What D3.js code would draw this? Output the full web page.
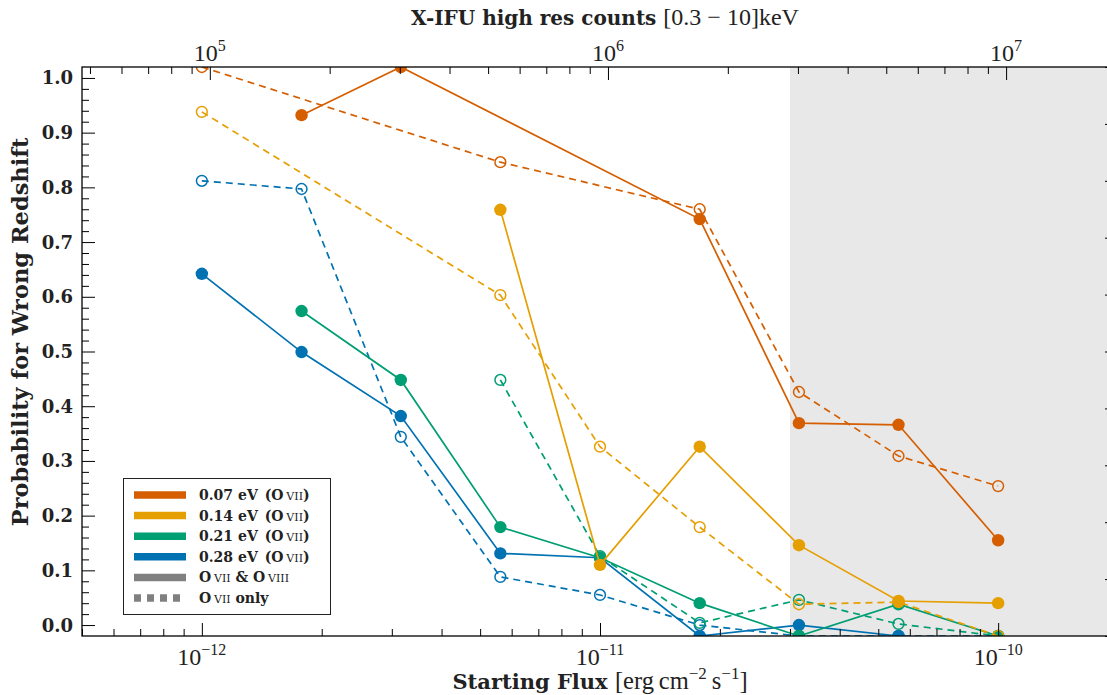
<!DOCTYPE html>
<html>
<head>
<meta charset="utf-8">
<script src="https://cdn.jsdelivr.net/npm/d3@7"></script>
<style>
  body { margin: 0; background: #fff; }
  svg { display: block; }
</style>
</head>
<body>
<svg id="chart" width="1107" height="695"></svg>
<script>
// ---- data -------------------------------------------------------------
// starting flux of each simulated source bin [erg cm^-2 s^-1]
const fluxBins = [1e-12, 1.78e-12, 3.16e-12, 5.62e-12, 1e-11, 1.78e-11, 3.16e-11, 5.62e-11, 1e-10];

// line widths (O VII) and their colours
const widthLabels = ["0.07 eV", "0.14 eV", "0.21 eV", "0.28 eV"];
const widthColors = ["#d55e00", "#e69f00", "#009e73", "#0072b2"];

// probability for a wrong redshift, fit with O VII & O VIII (solid)
const both007 = [null, 0.932, 1.02, null, null, 0.742, 0.369, 0.366, 0.155];
const both014 = [null, null, null, 0.759, 0.110, 0.326, 0.146, 0.044, 0.040];
const both021 = [null, 0.574, 0.448, 0.179, 0.123, 0.040, -0.02, 0.038, -0.02];
const both028 = [0.642, 0.499, 0.382, 0.131, 0.123, -0.02, 0.000, -0.02, null];

// probability for a wrong redshift, fit with O VII only (dashed)
const only007 = [1.02, null, null, 0.846, null, 0.760, 0.426, 0.309, 0.254];
const only014 = [0.938, null, null, 0.603, 0.326, 0.179, 0.038, 0.042, -0.02];
const only021 = [null, null, null, 0.448, 0.126, 0.004, 0.046, 0.002, -0.02];
const only028 = [0.812, 0.797, 0.344, 0.088, 0.055, 0.000, -0.02, -0.02, -0.02];

// flux above which the sources are considered bright
const brightFluxLimit = 3e-11;

// conversion from starting flux to X-IFU high-res counts in 0.3-10 keV
const countsPerFlux = 9.55e16;

// axis ticks
const fluxMajorTicks = [1e-12, 1e-11, 1e-10];
const countMajorTicks = [1e5, 1e6, 1e7];
const probMajorTicks = [0, 0.1, 0.2, 0.3, 0.4, 0.5, 0.6, 0.7, 0.8, 0.9, 1.0];

// ---- layout -----------------------------------------------------------
const margin = { left: 82, right: 1118, top: 67, bottom: 636 };
const svg = d3.select("#chart");

const x = d3.scaleLog().domain([5e-13, 2e-10]).range([margin.left, margin.right]);
const xTop = d3.scaleLog()
  .domain([5e-13 * countsPerFlux, 2e-10 * countsPerFlux])
  .range([margin.left, margin.right]);
const y = d3.scaleLinear().domain([-0.02, 1.02]).range([margin.bottom, margin.top]);

const boldFont = "'DejaVu Serif', serif";
const mathFont = "'Liberation Serif', 'Times New Roman', serif";

// minor ticks of a log scale (2..9 x 10^n) inside its domain
function logMinors(scale) {
  const [a, b] = scale.domain();
  const out = [];
  for (let e = Math.floor(Math.log10(a)); e <= Math.ceil(Math.log10(b)); e++) {
    for (let m = 2; m <= 9; m++) {
      const v = m * Math.pow(10, e);
      if (v >= a && v <= b) out.push(v);
    }
  }
  return out;
}

// ---- plot area ----------------------------------------------------------
svg.append("defs").append("clipPath").attr("id", "plotClip")
  .append("rect")
  .attr("x", margin.left).attr("y", margin.top)
  .attr("width", margin.right - margin.left)
  .attr("height", margin.bottom - margin.top);

const plotArea = svg.append("g").attr("clip-path", "url(#plotClip)");

// shaded bright-flux regime
plotArea.append("rect")
  .attr("x", x(brightFluxLimit))
  .attr("y", margin.top)
  .attr("width", x(x.domain()[1]) - x(brightFluxLimit))
  .attr("height", margin.bottom - margin.top)
  .attr("fill", "#e8e8e8");

// ---- axes ---------------------------------------------------------------
function tickGroup(axis, transform) {
  const g = svg.append("g").attr("transform", transform).call(axis);
  g.select(".domain").remove();
  g.selectAll(".tick line").attr("stroke", "#000").attr("stroke-width", 1);
  g.selectAll(".tick text").remove();
  return g;
}

// bottom: flux
tickGroup(d3.axisBottom(x).tickValues(fluxMajorTicks).tickSize(-13), `translate(0,${margin.bottom})`);
tickGroup(d3.axisBottom(x).tickValues(logMinors(x)).tickSize(-7), `translate(0,${margin.bottom})`);
// top: counts
tickGroup(d3.axisTop(xTop).tickValues(countMajorTicks).tickSize(-13), `translate(0,${margin.top})`);
tickGroup(d3.axisTop(xTop).tickValues(logMinors(xTop)).tickSize(-7), `translate(0,${margin.top})`);
// left: probability
const probMinorTicks = d3.range(0, 51).map(i => i / 50).filter(v => Math.round(v * 50) % 5 !== 0);
tickGroup(d3.axisLeft(y).tickValues(probMajorTicks).tickSize(-13), `translate(${margin.left},0)`);
tickGroup(d3.axisLeft(y).tickValues(probMinorTicks).tickSize(-7), `translate(${margin.left},0)`);
// right spine of the twin axes
const yTwin = d3.scaleLinear().domain([0, 1]).range([margin.bottom, margin.top]);
tickGroup(d3.axisRight(yTwin).ticks(10).tickSize(-13), `translate(${margin.right},0)`);

// frame
svg.append("rect")
  .attr("x", margin.left).attr("y", margin.top)
  .attr("width", margin.right - margin.left)
  .attr("height", margin.bottom - margin.top)
  .attr("fill", "none").attr("stroke", "#000").attr("stroke-width", 1.3);

// power-of-ten tick labels
function powerLabel(xPos, yPos, exponent) {
  const t = svg.append("text")
    .attr("x", xPos).attr("y", yPos)
    .attr("text-anchor", "middle")
    .attr("font-family", mathFont)
    .attr("font-size", 24)
    .attr("fill", "#222");
  t.append("tspan").text("10");
  t.append("tspan").attr("dy", -10).attr("font-size", 16).text(exponent);
}
fluxMajorTicks.forEach(v => powerLabel(x(v), 665, "\u2212" + Math.round(-Math.log10(v))));
countMajorTicks.forEach(v => powerLabel(xTop(v), 61, String(Math.round(Math.log10(v)))));

// probability tick labels
svg.append("g").selectAll("text")
  .data(probMajorTicks)
  .join("text")
  .attr("x", margin.left - 9)
  .attr("y", d => y(d) + 6.5)
  .attr("text-anchor", "end")
  .attr("font-family", boldFont)
  .attr("font-weight", "bold")
  .attr("font-size", 18)
  .attr("fill", "#222")
  .text(d3.format(".1f"));

// axis titles
const xTitle = svg.append("text")
  .attr("x", 600).attr("y", 689)
  .attr("text-anchor", "middle")
  .attr("fill", "#222");
xTitle.append("tspan").attr("font-family", boldFont).attr("font-weight", "bold")
  .attr("font-size", 21).text("Starting Flux ");
xTitle.append("tspan").attr("font-family", mathFont).attr("font-size", 24.5).text("[erg\u2009cm");
xTitle.append("tspan").attr("font-family", mathFont).attr("font-size", 17).attr("dy", -10).text("\u22122");
xTitle.append("tspan").attr("font-family", mathFont).attr("font-size", 24.5).attr("dy", 10).text("\u2009s");
xTitle.append("tspan").attr("font-family", mathFont).attr("font-size", 17).attr("dy", -10).text("\u22121");
xTitle.append("tspan").attr("font-family", mathFont).attr("font-size", 24.5).attr("dy", 10).text("]");

const topTitle = svg.append("text")
  .attr("x", 605).attr("y", 25)
  .attr("text-anchor", "middle")
  .attr("fill", "#222");
topTitle.append("tspan").attr("font-family", boldFont).attr("font-weight", "bold")
  .attr("font-size", 20).text("X-IFU high res counts ");
topTitle.append("tspan").attr("font-family", mathFont).attr("font-size", 24)
  .text("[0.3 \u2212 10]keV");

svg.append("text")
  .attr("transform", "translate(28,332) rotate(-90)")
  .attr("text-anchor", "middle")
  .attr("font-family", boldFont)
  .attr("font-weight", "bold")
  .attr("font-size", 22.5)
  .attr("fill", "#222")
  .text("Probability for Wrong Redshift");

// ---- data series --------------------------------------------------------
const seriesBoth = [both007, both014, both021, both028];
const seriesOnly = [only007, only014, only021, only028];

const line = d3.line().x(d => x(d.flux)).y(d => y(d.p));
const toPoints = arr => arr.map((p, i) => ({ flux: fluxBins[i], p })).filter(d => d.p !== null);

// widest line first so that the narrower ones sit on top
[3, 2, 1, 0].forEach(i => {
  const color = widthColors[i];
  const g = plotArea.append("g");

  const both = toPoints(seriesBoth[i]);
  g.append("path").datum(both)
    .attr("d", line).attr("fill", "none")
    .attr("stroke", color).attr("stroke-width", 1.7);
  g.selectAll(".both").data(both).join("circle")
    .attr("class", "both")
    .attr("cx", d => x(d.flux)).attr("cy", d => y(d.p))
    .attr("r", 6.2).attr("fill", color);

  const only = toPoints(seriesOnly[i]);
  g.append("path").datum(only)
    .attr("d", line).attr("fill", "none")
    .attr("stroke", color).attr("stroke-width", 1.7)
    .attr("stroke-dasharray", "7,5");
  g.selectAll(".only").data(only).join("circle")
    .attr("class", "only")
    .attr("cx", d => x(d.flux)).attr("cy", d => y(d.p))
    .attr("r", 5.4).attr("fill", "none")
    .attr("stroke", color).attr("stroke-width", 1.5);
});

// ---- legend ---------------------------------------------------------------
const legend = svg.append("g");
legend.append("rect")
  .attr("x", 123.5).attr("y", 478.5)
  .attr("width", 207).attr("height", 136)
  .attr("fill", "#fff").attr("stroke", "#222").attr("stroke-width", 1);

const legendRows = widthLabels.map((label, i) => ({ label, color: widthColors[i], dash: null, kind: "width" }))
  .concat([
    { label: null, color: "#808080", dash: null, kind: "both" },
    { label: null, color: "#808080", dash: "7,6", kind: "only" }
  ]);

legendRows.forEach((row, i) => {
  const cy = 495 + i * 20.6;
  legend.append("line")
    .attr("x1", 134).attr("x2", 186)
    .attr("y1", cy).attr("y2", cy)
    .attr("stroke", row.color).attr("stroke-width", 7.5)
    .attr("stroke-dasharray", row.dash);

  const t = legend.append("text")
    .attr("x", 199).attr("y", cy + 5)
    .attr("font-family", boldFont)
    .attr("font-size", 14)
    .attr("font-weight", "bold")
    .attr("fill", "#222");
  const sc = (s) => t.append("tspan").attr("font-weight", "normal").attr("font-size", 11).text(s);
  const bold = (s) => t.append("tspan").text(s);
  if (row.kind === "width") {
    bold(row.label + "\u2002(O\u2009");
    sc("VII");
    bold(")");
  } else if (row.kind === "both") {
    bold("O\u2009"); sc("VII"); bold(" & O\u2009"); sc("VIII");
  } else {
    bold("O\u2009"); sc("VII"); bold(" only");
  }
});
</script>
</body>
</html>
